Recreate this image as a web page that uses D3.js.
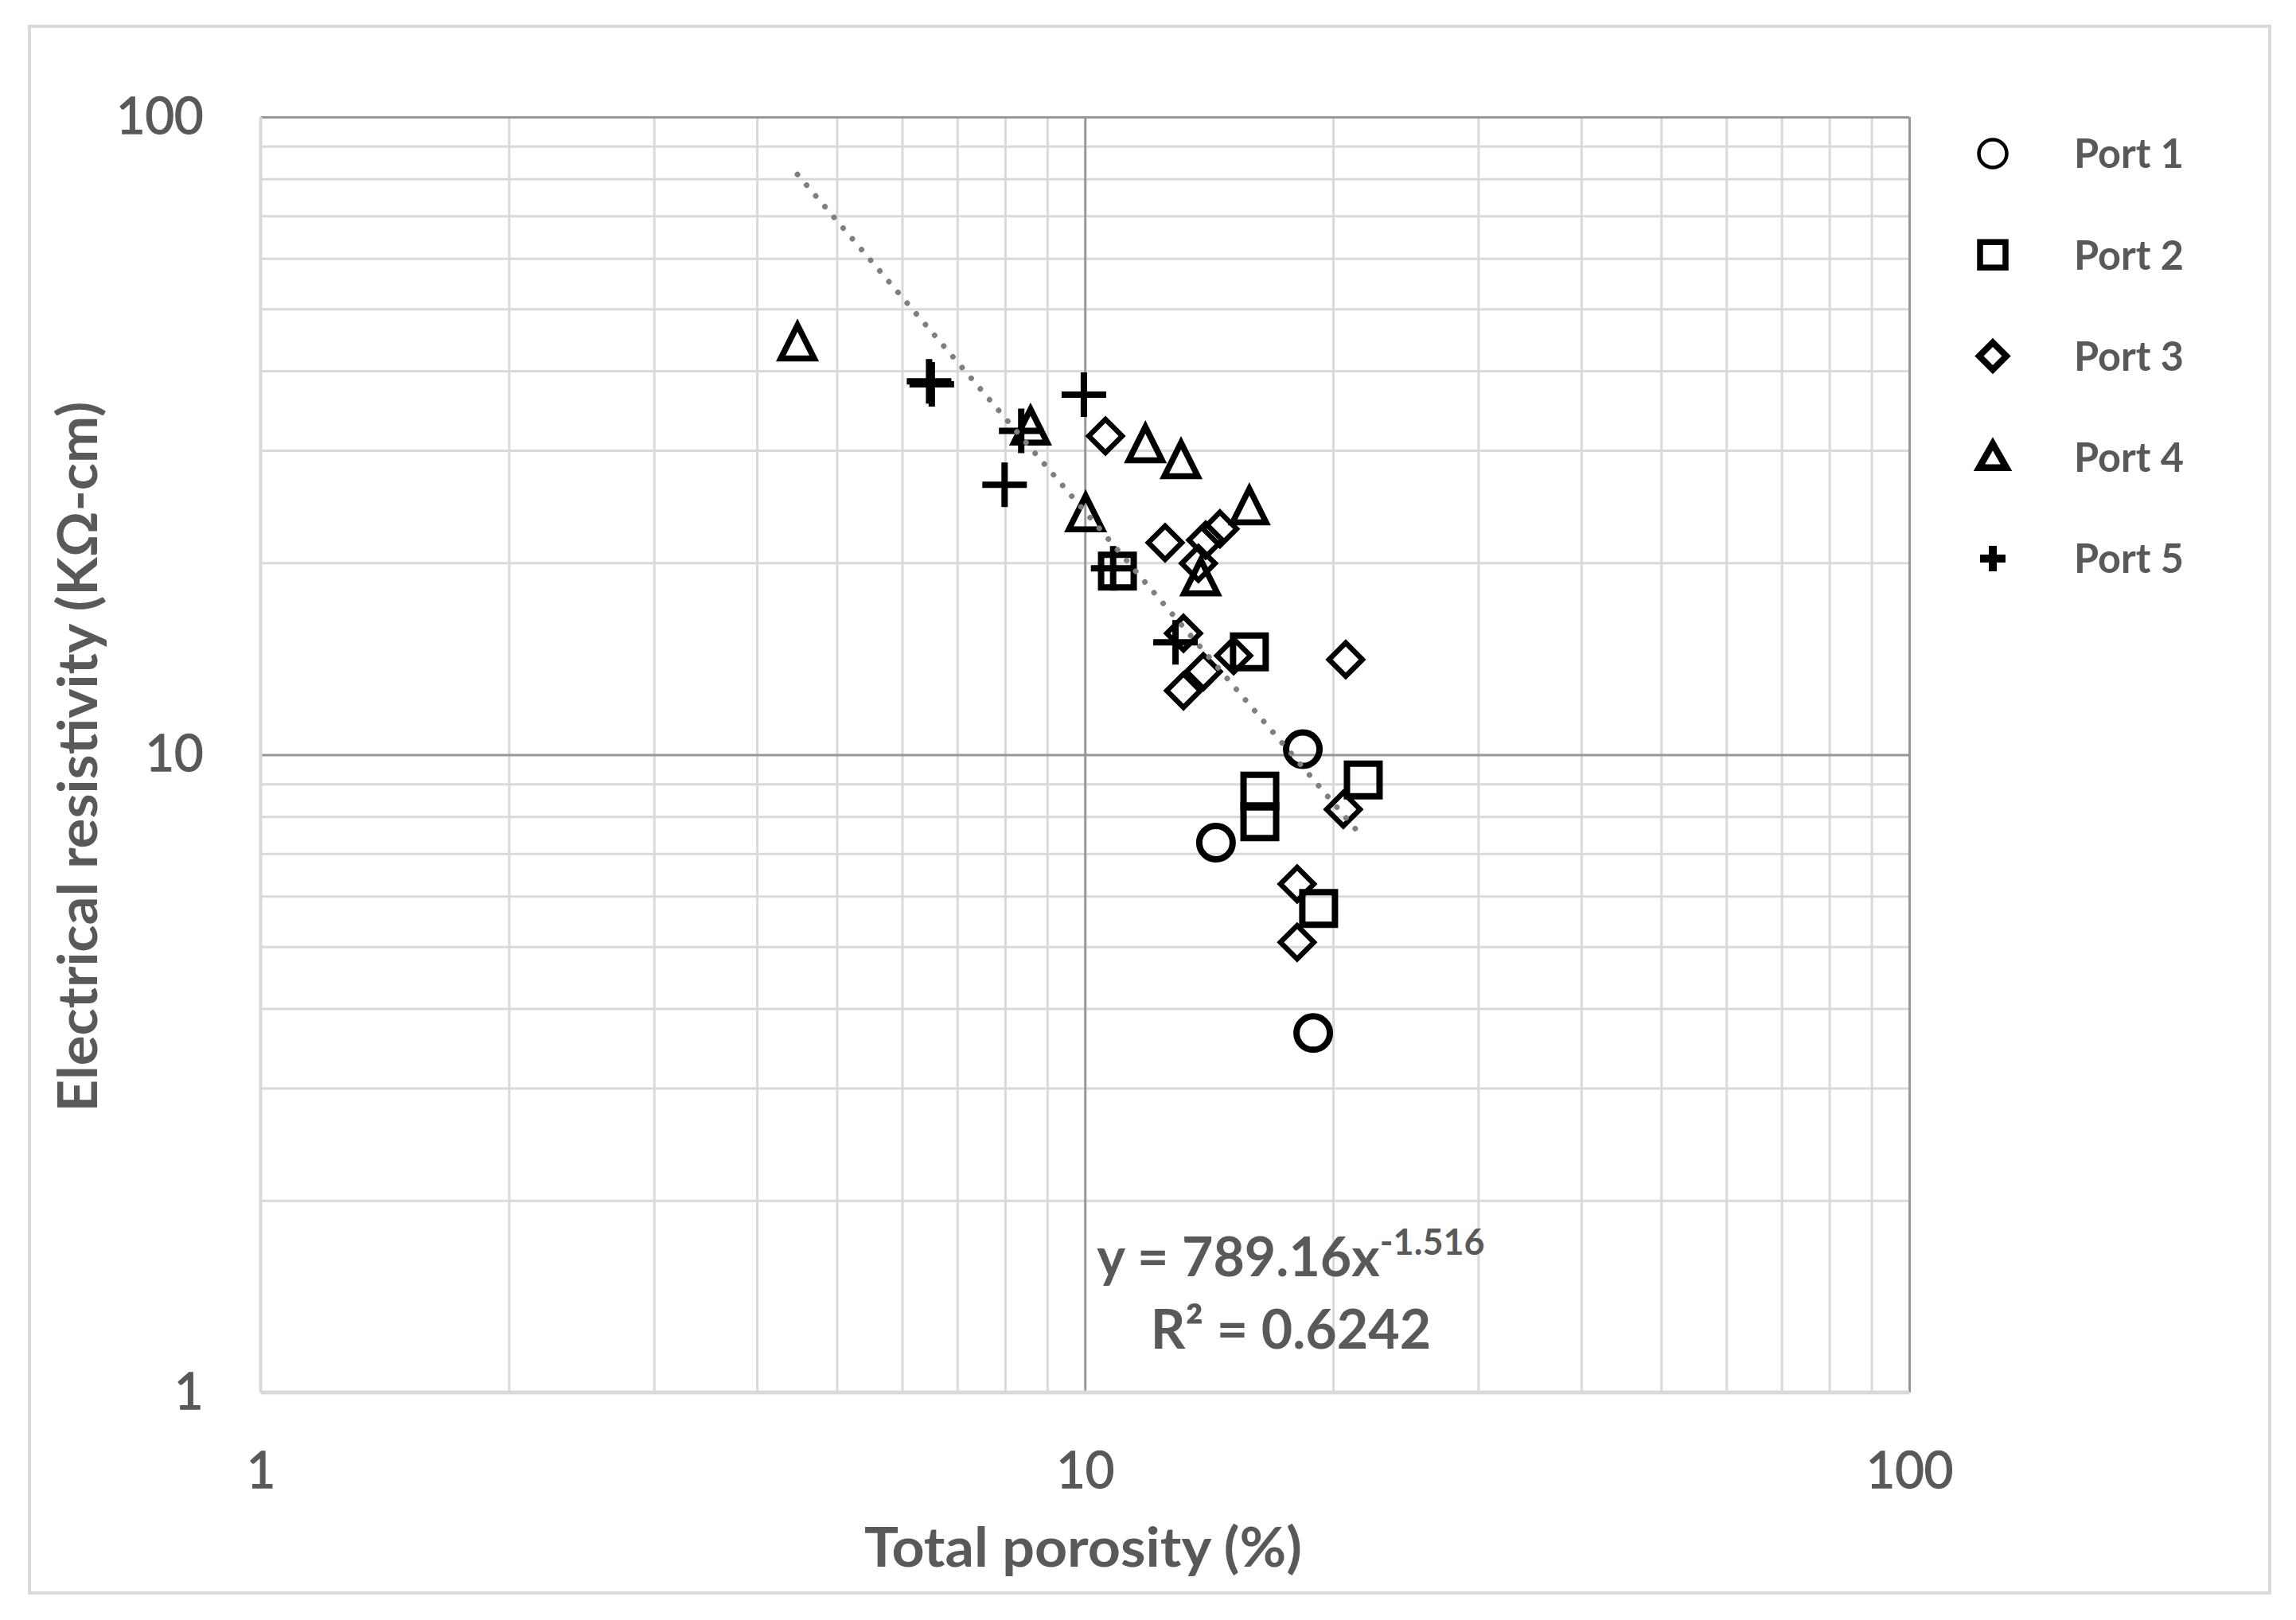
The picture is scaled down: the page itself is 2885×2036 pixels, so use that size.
<!DOCTYPE html>
<html>
<head>
<meta charset="utf-8">
<script src="https://cdn.jsdelivr.net/npm/d3@7"></script>
<style>
  html, body { margin: 0; padding: 0; background: #ffffff; }
  svg { display: block; }
  text { font-family: Lato, "Open Sans", "DejaVu Sans", sans-serif; fill: #595959; }
</style>
</head>
<body>
<svg id="chart" width="2885" height="2036"></svg>
<script>
// ---------------- data ----------------
const seriesNames = ["Port 1", "Port 2", "Port 3", "Port 4", "Port 5"];
const seriesShapes = ["circle", "square", "diamond", "triangle", "plus"];

// [total porosity (%), electrical resistivity (kΩ-cm)]
const port1 = [[18.38, 10.2], [14.42, 7.28], [18.92, 3.66]];
const port2 = [[10.95, 19.4], [15.83, 14.5], [21.76, 9.13], [16.30, 8.77], [16.30, 7.85], [19.21, 5.74]];
const port3 = [[10.59, 31.6], [12.51, 21.5], [14.01, 21.7], [14.58, 22.6], [13.73, 19.95], [13.17, 15.5],
               [15.15, 14.3], [20.72, 14.1], [13.92, 13.5], [13.17, 12.6], [20.58, 8.21], [18.09, 6.27], [18.09, 5.08]];
const port4 = [[4.48, 43.9], [8.59, 32.4], [11.84, 30.4], [13.08, 28.7], [10.02, 23.7], [15.83, 24.3], [13.82, 18.8]];
const port5 = [[6.47, 38.5], [6.52, 38.1], [9.97, 36.7], [7.99, 26.5], [8.37, 32.2], [10.82, 19.6], [12.88, 15.0]];

const xTickValues = [1, 10, 100];
const yTickValues = [1, 10, 100];
const minorGrid = [2, 3, 4, 5, 6, 7, 8, 9, 20, 30, 40, 50, 60, 70, 80, 90];
const majorGrid = [10, 100];

const trendA = 789.16, trendB = -1.516;
const eqLabel = "y = 789.16x";
const eqExp = "-1.516";
const r2Label = "R² = 0.6242";
const xTitle = "Total porosity (%)";
const yTitle = "Electrical resistivity (KΩ-cm)";

// ---------------- layout ----------------
const W = 2885, H = 2036;
const P = { left: 327.5, right: 2399, top: 147, bottom: 1750 };
const svg = d3.select("#chart");

svg.append("rect").attr("x", 0).attr("y", 0).attr("width", W).attr("height", H).attr("fill", "#fff");
svg.append("rect").attr("x", 37).attr("y", 33).attr("width", 2815).attr("height", 1969)
  .attr("fill", "none").attr("stroke", "#d9d9d9").attr("stroke-width", 4);

const x = d3.scaleLog().domain([1, 100]).range([P.left, P.right]);
const y = d3.scaleLog().domain([1, 100]).range([P.bottom, P.top]);

// grid (minor)
const grid = svg.append("g");
grid.append("g").attr("transform", `translate(0,${P.bottom})`)
  .call(d3.axisBottom(x).tickValues(minorGrid).tickSize(-(P.bottom - P.top)).tickFormat(""))
  .call(g => g.select(".domain").remove())
  .call(g => g.selectAll("line").attr("stroke", "#d9d9d9").attr("stroke-width", 3));
grid.append("g").attr("transform", `translate(${P.left},0)`)
  .call(d3.axisLeft(y).tickValues(minorGrid).tickSize(-(P.right - P.left)).tickFormat(""))
  .call(g => g.select(".domain").remove())
  .call(g => g.selectAll("line").attr("stroke", "#d9d9d9").attr("stroke-width", 3));
// grid (major)
grid.append("g").attr("transform", `translate(0,${P.bottom})`)
  .call(d3.axisBottom(x).tickValues(majorGrid).tickSize(-(P.bottom - P.top)).tickFormat(""))
  .call(g => g.select(".domain").remove())
  .call(g => g.selectAll("line").attr("stroke", "#989898").attr("stroke-width", 3));
grid.append("g").attr("transform", `translate(${P.left},0)`)
  .call(d3.axisLeft(y).tickValues(majorGrid).tickSize(-(P.right - P.left)).tickFormat(""))
  .call(g => g.select(".domain").remove())
  .call(g => g.selectAll("line").attr("stroke", "#989898").attr("stroke-width", 3));
// axis lines
svg.append("line").attr("x1", P.left).attr("x2", P.right).attr("y1", P.bottom).attr("y2", P.bottom)
  .attr("stroke", "#d9d9d9").attr("stroke-width", 5);
svg.append("line").attr("x1", P.left).attr("x2", P.left).attr("y1", P.top).attr("y2", P.bottom)
  .attr("stroke", "#d9d9d9").attr("stroke-width", 4);

// tick labels
svg.append("g").attr("transform", `translate(0,${P.bottom})`)
  .call(d3.axisBottom(x).tickValues(xTickValues).tickSize(0).tickPadding(75).tickFormat(d3.format("d")))
  .call(g => g.select(".domain").remove())
  .call(g => g.selectAll("text").attr("font-size", 63).attr("fill", "#595959")
    .attr("stroke", "#595959").attr("stroke-width", 1.3)
    .style("font-family", "Lato, 'Open Sans', sans-serif"));
svg.append("g").attr("transform", `translate(${P.left},0)`)
  .call(d3.axisLeft(y).tickValues(yTickValues).tickSize(0).tickPadding(72).tickFormat(d3.format("d")))
  .call(g => g.select(".domain").remove())
  .call(g => g.selectAll("text").attr("font-size", 63).attr("fill", "#595959")
    .attr("stroke", "#595959").attr("stroke-width", 1.3)
    .style("font-family", "Lato, 'Open Sans', sans-serif"));

// axis titles
svg.append("text").attr("x", 1361).attr("y", 1969).attr("text-anchor", "middle")
  .attr("font-size", 68).attr("font-weight", "bold")
  .attr("textLength", 550).attr("lengthAdjust", "spacingAndGlyphs").text(xTitle);
svg.append("text").attr("transform", "translate(122,951) rotate(-90)").attr("text-anchor", "middle")
  .attr("font-size", 68).attr("font-weight", "bold")
  .attr("textLength", 893).attr("lengthAdjust", "spacingAndGlyphs").text(yTitle);

// ---------------- trend line ----------------
const allPts = [].concat(port1, port2, port3, port4, port5);
const xmin = d3.min(allPts, d => d[0]), xmax = d3.max(allPts, d => d[0]);
const trendPts = d3.range(0, 101).map(i => {
  const xv = Math.exp(Math.log(xmin) + (Math.log(xmax) - Math.log(xmin)) * i / 100);
  return [xv, trendA * Math.pow(xv, trendB)];
});

// ---------------- markers ----------------
function shapePath(type, s) {
  const p = d3.path();
  if (type === "circle") { p.moveTo(s.r, 0); p.arc(0, 0, s.r, 0, 2 * Math.PI); }
  else if (type === "square") { p.rect(-s.h, -s.h, 2 * s.h, 2 * s.h); }
  else if (type === "diamond") { p.moveTo(0, -s.d); p.lineTo(s.d, 0); p.lineTo(0, s.d); p.lineTo(-s.d, 0); p.closePath(); }
  else if (type === "triangle") { p.moveTo(0, s.top); p.lineTo(s.hw, s.base); p.lineTo(-s.hw, s.base); p.closePath(); }
  else if (type === "plus") { p.moveTo(-s.a, 0); p.lineTo(s.a, 0); p.moveTo(0, -s.a); p.lineTo(0, s.a); }
  return p.toString();
}
const plotStyle = {
  circle:   { r: 21, sw: 8 },
  square:   { h: 20.5, sw: 8 },
  diamond:  { d: 21, sw: 6.5 },
  triangle: { top: -25, base: 17, hw: 21, sw: 7.5 },
  plus:     { a: 28, sw: 8 }
};
const legendStyle = {
  circle:   { r: 17.5, sw: 4.5 },
  square:   { h: 16, sw: 7.5 },
  diamond:  { d: 17, sw: 8 },
  triangle: { top: -17, base: 13, hw: 17, sw: 8.5 },
  plus:     { a: 16, sw: 10 }
};

const seriesData = [port1, port2, port3, port4, port5];
const marks = svg.append("g");
seriesData.forEach((pts, i) => {
  const type = seriesShapes[i];
  const st = plotStyle[type];
  marks.append("g").selectAll("path").data(pts).join("path")
    .attr("transform", d => `translate(${x(d[0])},${y(d[1])})`)
    .attr("d", shapePath(type, st))
    .attr("fill", "none").attr("stroke", "#000").attr("stroke-width", st.sw)
    .attr("stroke-linejoin", "miter");
});

svg.append("path").datum(trendPts)
  .attr("d", d3.line().x(d => x(d[0])).y(d => y(d[1])))
  .attr("fill", "none").attr("stroke", "#7f7f7f").attr("stroke-width", 7)
  .attr("stroke-linecap", "round").attr("stroke-dasharray", "0.01 17.7");

// equation
const eq = svg.append("text").attr("x", 1622).attr("y", 1604).attr("text-anchor", "middle")
  .attr("font-size", 68).attr("font-weight", "bold");
eq.append("tspan").text(eqLabel);
eq.append("tspan").attr("font-size", 45).attr("dy", -27).text(eqExp);
svg.append("text").attr("x", 1622).attr("y", 1695).attr("text-anchor", "middle")
  .attr("font-size", 68).attr("font-weight", "bold").text(r2Label);

// ---------------- legend ----------------
const ly = d3.scalePoint().domain(seriesNames).range([193, 702]);
const leg = svg.append("g");
seriesNames.forEach((name, i) => {
  const type = seriesShapes[i];
  const st = legendStyle[type];
  leg.append("path").attr("transform", `translate(2504,${ly(name)})`)
    .attr("d", shapePath(type, st)).attr("fill", "none").attr("stroke", "#000")
    .attr("stroke-width", st.sw);
  leg.append("text").attr("x", 2606).attr("y", ly(name)).attr("dy", "0.36em")
    .attr("font-size", 51).attr("font-weight", "bold")
    .attr("textLength", 138).attr("lengthAdjust", "spacingAndGlyphs").text(name);
});
</script>
</body>
</html>
